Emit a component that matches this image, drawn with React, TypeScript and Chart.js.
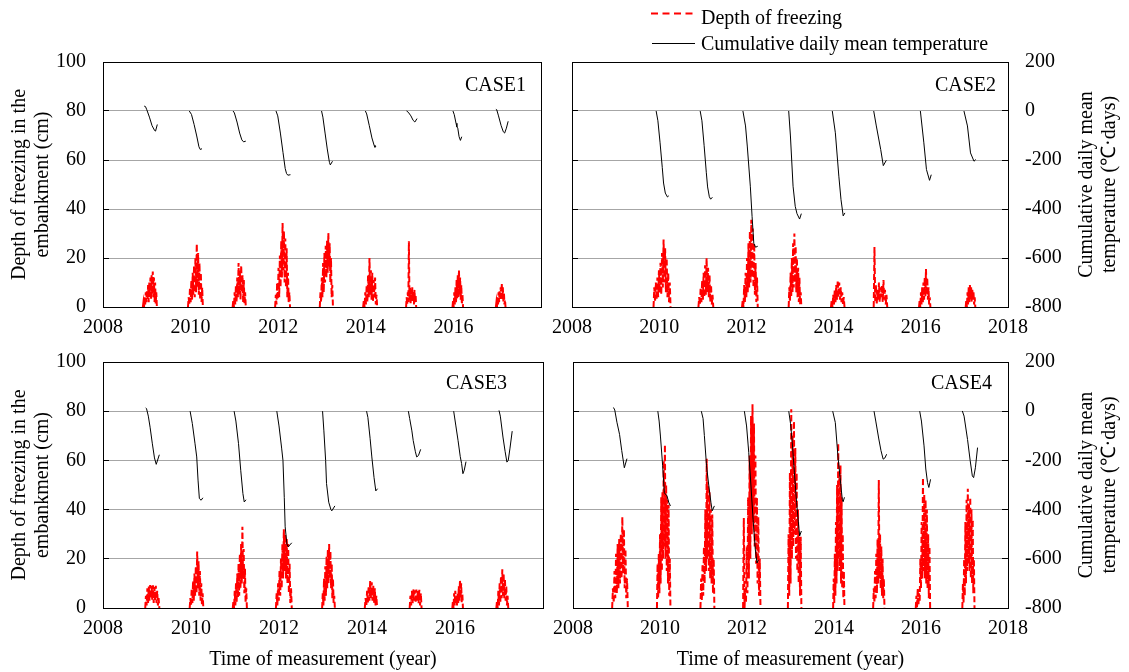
import React, { useEffect, useRef } from 'react';
import { Chart, registerables } from 'chart.js';

Chart.register(...registerables);

const FAMILY = "'Liberation Serif', 'Times New Roman', serif";
const W = 1129;
const H = 672;

// ---- tick labels / texts ----
const xTickYears = [2008, 2010, 2012, 2014, 2016, 2018];
const depthTicks = [0, 20, 40, 60, 80, 100];
const tempTicks = [-800, -600, -400, -200, 0, 200];
const legendLabels = ['Depth of freezing', 'Cumulative daily mean temperature'];
const depthAxisTitle = ['Depth of freezing in the', 'embankment (cm)'];
const tempAxisTitle = ['Cumulative daily mean', 'temperature (℃·days)'];
const timeAxisTitle = 'Time of measurement (year)';

// ---- data: depth of freezing (cm); each winter: [start year, end year, readings] ----
type Winter = [number, number, number[]];
type Curve = [number, number][];

const case1Depth: Winter[] = [
  [2008.91, 2009.23, [0, 2, 0, 4, 1, 6, 2, 7, 3, 9, 2, 10, 4, 12, 3, 13, 5, 14.5, 4, 12, 2, 10, 1, 6, 0]],
  [2009.94, 2010.28, [0, 4, 1, 8, 2, 11, 3, 14, 5, 17, 4, 20, 6, 25.8, 8, 22, 5, 18, 3, 14, 2, 8, 0]],
  [2010.96, 2011.26, [0, 3, 0, 6, 1, 9, 2, 12, 4, 18, 5, 15, 3, 17, 6, 13, 2, 11, 1, 6, 0]],
  [2011.93, 2012.27, [0, 5, 1, 10, 3, 16, 4, 21, 8, 27, 12, 34.3, 15, 31, 10, 28, 8, 24, 4, 14, 2, 6, 0]],
  [2012.95, 2013.25, [0, 6, 2, 12, 4, 18, 6, 22, 10, 25, 12, 27, 14, 30.2, 16, 26, 10, 20, 4, 9, 0]],
  [2013.94, 2014.26, [0, 3, 0, 6, 1, 9, 2, 13, 4, 20, 5, 15, 3, 14, 2, 11, 4, 12, 1, 5, 0]],
  [2014.92, 2015.15, [0, 4, 1, 6, 2, 26.8, 3, 8, 1, 7, 2, 8, 3, 6, 1, 7, 2, 5, 0]],
  [2015.98, 2016.22, [0, 3, 0, 6, 1, 8, 2, 11, 3, 13, 4, 15, 5, 12, 3, 9, 1, 5, 0]],
  [2016.97, 2017.19, [0, 2, 0, 4, 1, 6, 2, 7, 3, 8, 4, 9.7, 3, 8, 2, 6, 1, 3, 0]],
];
const case2Depth: Winter[] = [
  [2009.87, 2010.26, [0, 8, 2, 10, 3, 12, 4, 15, 6, 18, 5, 22, 8, 27.5, 10, 24, 6, 20, 4, 14, 2, 10, 0]],
  [2010.9, 2011.24, [0, 4, 1, 8, 2, 11, 3, 14, 4, 17, 5, 20, 6, 16, 4, 13, 2, 9, 1, 5, 0]],
  [2011.9, 2012.26, [0, 3, 0, 9, 2, 14, 4, 20, 6, 26, 8, 31, 10, 35.6, 12, 32, 8, 26, 5, 18, 2, 12, 0]],
  [2012.97, 2013.26, [0, 8, 2, 14, 4, 20, 6, 26, 8, 30, 10, 25, 6, 20, 4, 16, 2, 12, 1, 6, 0]],
  [2013.94, 2014.25, [0, 3, 0, 5, 1, 7, 2, 9, 3, 11, 4, 10, 3, 8, 2, 6, 1, 4, 0]],
  [2014.92, 2015.23, [0, 24.5, 2, 9, 1, 7, 3, 10, 2, 8, 4, 9, 2, 11, 3, 7, 1, 5, 0]],
  [2015.96, 2016.22, [0, 3, 0, 6, 1, 8, 2, 10, 3, 12, 4, 15.5, 5, 12, 3, 8, 1, 4, 0]],
  [2017.03, 2017.25, [0, 3, 0, 6, 1, 8, 2, 9, 3, 8, 2, 7, 3, 6, 1, 4, 0]],
];
const case3Depth: Winter[] = [
  [2008.96, 2009.28, [0, 5, 1, 8, 2, 9, 3, 9.3, 4, 9, 3, 9.2, 2, 8.5, 3, 9, 2, 7, 1, 4, 0]],
  [2009.97, 2010.28, [0, 4, 1, 8, 2, 11, 3, 14, 5, 17, 6, 23, 8, 19, 5, 15, 3, 10, 1, 6, 0]],
  [2010.95, 2011.27, [0, 3, 0, 7, 1, 10, 2, 14, 4, 18, 5, 22, 8, 26, 10, 33, 12, 24, 6, 16, 2, 8, 0]],
  [2011.93, 2012.29, [0, 6, 1, 10, 3, 15, 5, 20, 8, 26, 12, 32, 15, 30, 12, 28, 10, 26, 6, 18, 2, 8, 0]],
  [2012.98, 2013.27, [0, 6, 1, 12, 3, 17, 5, 21, 8, 24, 10, 26, 12, 23, 8, 18, 4, 12, 2, 5, 0]],
  [2013.95, 2014.23, [0, 4, 1, 7, 2, 9, 3, 11, 4, 10.5, 3, 9, 2, 8, 1, 5, 0]],
  [2014.97, 2015.24, [0, 5, 1, 7, 2, 7.6, 3, 7.2, 2, 7.5, 3, 7, 2, 7.4, 1, 6, 0]],
  [2015.94, 2016.18, [0, 3, 0, 6, 1, 7, 2, 5, 1, 6, 2, 9, 3, 11.4, 4, 10, 2, 6, 0]],
  [2016.94, 2017.21, [0, 3, 0, 7, 1, 10, 2, 13, 4, 15.7, 5, 14, 4, 12, 3, 9, 1, 5, 0]],
];
const case4Depth: Winter[] = [
  [2008.9, 2009.26, [0, 8, 2, 15, 4, 22, 6, 26, 8, 28, 10, 30, 12, 37, 14, 32, 8, 24, 4, 12, 0]],
  [2009.93, 2010.24, [0, 18, 4, 22, 6, 30, 10, 45, 15, 47, 20, 60, 25, 66.5, 20, 50, 15, 44, 10, 42, 5, 20, 0]],
  [2010.93, 2011.25, [0, 12, 3, 18, 5, 25, 10, 40, 15, 60.7, 20, 50, 15, 47, 12, 40, 10, 38, 6, 20, 0]],
  [2011.91, 2012.31, [0, 36.6, 0, 8, 2, 25, 6, 45, 12, 62, 20, 78, 30, 82.8, 35, 75, 25, 62, 18, 45, 10, 37, 5, 20, 0]],
  [2012.94, 2013.25, [0, 30, 5, 55, 10, 80.8, 20, 70, 25, 76, 30, 65, 20, 55, 15, 40, 10, 29, 5, 29, 0]],
  [2013.98, 2014.24, [0, 12, 2, 22, 5, 35, 10, 50, 15, 67, 20, 55, 15, 58, 10, 45, 8, 30, 4, 15, 0]],
  [2014.9, 2015.16, [0, 8, 2, 15, 4, 22, 6, 28, 10, 52, 12, 30, 8, 25, 5, 20, 4, 12, 0]],
  [2015.88, 2016.21, [0, 5, 0, 8, 1, 6, 3, 20, 8, 35, 12, 53, 15, 46, 12, 44, 10, 40, 8, 30, 4, 25, 0]],
  [2016.95, 2017.23, [0, 10, 2, 20, 5, 35, 10, 44, 15, 48.5, 18, 42, 15, 45, 12, 40, 10, 36, 6, 20, 0]],
];

// ---- data: cumulative daily mean temperature (℃·days); each winter: [year, value] ----
const case1Temp: Curve[] = [
  [[2008.94, 20], [2008.97, 18], [2009.0, 5], [2009.06, -25], [2009.12, -60], [2009.18, -80], [2009.2, -82], [2009.24, -55]],
  [[2009.97, 0], [2010.02, -14], [2010.08, -55], [2010.14, -102], [2010.19, -146], [2010.22, -157], [2010.26, -154]],
  [[2010.97, 0], [2011.0, -8], [2011.06, -45], [2011.12, -90], [2011.17, -118], [2011.21, -126], [2011.26, -123]],
  [[2011.95, 0], [2011.99, -20], [2012.05, -90], [2012.11, -170], [2012.16, -235], [2012.19, -255], [2012.22, -262], [2012.28, -260]],
  [[2012.99, 0], [2013.02, -25], [2013.07, -90], [2013.12, -155], [2013.17, -210], [2013.19, -220], [2013.24, -205]],
  [[2013.99, 0], [2014.02, -12], [2014.08, -60], [2014.14, -110], [2014.19, -140], [2014.21, -148], [2014.23, -144]],
  [[2014.93, 0], [2014.97, -5], [2015.03, -20], [2015.08, -38], [2015.12, -45], [2015.17, -31]],
  [[2015.99, 0], [2016.02, -15], [2016.06, -50], [2016.08, -65], [2016.1, -70], [2016.13, -105], [2016.16, -120], [2016.19, -105]],
  [[2016.97, 7], [2016.99, 5], [2017.03, -20], [2017.09, -60], [2017.14, -85], [2017.17, -90], [2017.21, -70], [2017.25, -42]],
];
const case2Temp: Curve[] = [
  [[2009.93, 0], [2009.97, -40], [2010.02, -130], [2010.07, -230], [2010.1, -294], [2010.14, -335], [2010.19, -351], [2010.22, -346]],
  [[2010.94, 0], [2010.98, -40], [2011.03, -140], [2011.08, -250], [2011.11, -310], [2011.15, -350], [2011.18, -360], [2011.22, -352]],
  [[2011.92, 0], [2011.98, -61], [2012.02, -143], [2012.09, -307], [2012.13, -430], [2012.17, -540], [2012.21, -556], [2012.26, -552]],
  [[2012.97, 0], [2013.01, -102], [2013.07, -307], [2013.12, -389], [2013.16, -419], [2013.22, -441], [2013.26, -419]],
  [[2013.97, 0], [2014.04, -89], [2014.12, -266], [2014.17, -362], [2014.22, -428], [2014.26, -416]],
  [[2014.92, 0], [2014.98, -61], [2015.08, -157], [2015.14, -223], [2015.21, -201]],
  [[2015.99, 0], [2016.07, -130], [2016.13, -239], [2016.2, -283], [2016.24, -260]],
  [[2016.99, 0], [2017.07, -61], [2017.14, -171], [2017.22, -205], [2017.26, -198]],
];
const case3Temp: Curve[] = [
  [[2008.97, 14], [2008.99, 10], [2009.03, -20], [2009.07, -65], [2009.12, -130], [2009.17, -190], [2009.21, -216], [2009.28, -177]],
  [[2009.98, 0], [2010.03, -50], [2010.09, -130], [2010.13, -186], [2010.16, -280], [2010.19, -355], [2010.23, -362], [2010.27, -352]],
  [[2010.98, 0], [2011.02, -40], [2011.08, -132], [2011.13, -240], [2011.18, -335], [2011.21, -369], [2011.25, -360]],
  [[2011.95, 0], [2012.0, -60], [2012.06, -150], [2012.09, -200], [2012.12, -350], [2012.14, -470], [2012.18, -540], [2012.21, -551], [2012.29, -535]],
  [[2012.99, 0], [2013.02, -80], [2013.06, -200], [2013.08, -294], [2013.13, -370], [2013.18, -400], [2013.2, -405], [2013.27, -385]],
  [[2013.99, 0], [2014.02, -25], [2014.07, -110], [2014.11, -186], [2014.16, -270], [2014.2, -324], [2014.24, -315]],
  [[2014.94, 0], [2014.97, -30], [2015.02, -80], [2015.05, -119], [2015.1, -165], [2015.13, -186], [2015.17, -180], [2015.22, -155]],
  [[2015.97, 0], [2016.02, -60], [2016.07, -120], [2016.12, -185], [2016.15, -213], [2016.18, -254], [2016.21, -240], [2016.25, -205]],
  [[2017.0, 3], [2017.03, -20], [2017.09, -105], [2017.14, -165], [2017.18, -207], [2017.21, -200], [2017.25, -150], [2017.3, -81]],
];
const case4Temp: Curve[] = [
  [[2008.93, 15], [2008.96, 5], [2009.01, -45], [2009.07, -94], [2009.12, -160], [2009.18, -230], [2009.24, -193]],
  [[2009.95, 0], [2009.98, -40], [2010.01, -101], [2010.06, -220], [2010.1, -332], [2010.16, -344], [2010.2, -370], [2010.24, -385]],
  [[2010.95, 0], [2010.99, -30], [2011.02, -99], [2011.07, -222], [2011.12, -300], [2011.17, -370], [2011.2, -405], [2011.25, -385]],
  [[2011.94, 0], [2011.99, -60], [2012.04, -167], [2012.09, -300], [2012.14, -440], [2012.19, -560], [2012.23, -617], [2012.26, -605]],
  [[2012.96, 0], [2013.0, -50], [2013.04, -126], [2013.09, -250], [2013.14, -371], [2013.18, -450], [2013.21, -507], [2013.25, -487]],
  [[2013.97, 0], [2014.03, -46], [2014.09, -182], [2014.14, -270], [2014.19, -358], [2014.21, -368], [2014.24, -350]],
  [[2014.92, 0], [2014.96, -40], [2015.03, -113], [2015.08, -160], [2015.13, -195], [2015.17, -190], [2015.21, -175]],
  [[2015.97, 0], [2016.01, -40], [2016.07, -141], [2016.11, -235], [2016.15, -290], [2016.18, -310], [2016.22, -277]],
  [[2016.95, 1], [2016.99, -20], [2017.07, -115], [2017.13, -200], [2017.18, -263], [2017.21, -270], [2017.25, -230], [2017.3, -148]],
];

// ---- layout of the four panels (plot-area pixel bounds) ----
type Panel = {
  name: string;
  depth: Winter[];
  temp: Curve[];
  l: number; r: number; t: number; b: number;
  left: boolean; right: boolean; xTitle: boolean; hideLastX: boolean;
  labelDx: number; labelDy: number;
};

const panels: Panel[] = [
  { name: 'CASE1', depth: case1Depth, temp: case1Temp, l: 103, r: 541, t: 62, b: 307, left: true, right: false, xTitle: false, hideLastX: true, labelDx: 15, labelDy: 24 },
  { name: 'CASE2', depth: case2Depth, temp: case2Temp, l: 572, r: 1008, t: 62, b: 307, left: false, right: true, xTitle: false, hideLastX: false, labelDx: 12, labelDy: 24 },
  { name: 'CASE3', depth: case3Depth, temp: case3Temp, l: 103, r: 543, t: 362, b: 608, left: true, right: false, xTitle: true, hideLastX: true, labelDx: 36, labelDy: 22 },
  { name: 'CASE4', depth: case4Depth, temp: case4Temp, l: 573, r: 1008, t: 362, b: 608, left: false, right: true, xTitle: true, hideLastX: false, labelDx: 16, labelDy: 22 },
];

const toDepthPoints = (winters: Winter[]) => {
  const pts: { x: number; y: number | null }[] = [];
  for (const [s, e, vals] of winters) {
    vals.forEach((v, i) => pts.push({ x: s + ((e - s) * i) / (vals.length - 1), y: v }));
    pts.push({ x: e, y: null });
  }
  return pts;
};

const toTempPoints = (curves: Curve[]) => {
  const pts: { x: number; y: number | null }[] = [];
  for (const c of curves) {
    c.forEach(([x, y]) => pts.push({ x, y }));
    pts.push({ x: c[c.length - 1][0], y: null });
  }
  return pts;
};

const font = { family: FAMILY, size: 20, lineHeight: 1.15 };

const decorPlugin = {
  id: 'decor',
  afterDraw(chart: any, _args: any, opts: any) {
    const { ctx, chartArea: a } = chart;
    const ys = chart.scales.y;
    ctx.save();
    ctx.strokeStyle = '#000';
    ctx.lineWidth = 1;
    ctx.beginPath();
    for (const v of depthTicks) {
      if (v === 0 || v === 100) continue;
      const y = Math.round(ys.getPixelForValue(v) - 0.5) + 0.5;
      ctx.moveTo(a.left, y);
      ctx.lineTo(a.left + 6, y);
      if (opts.rightTicks) {
        ctx.moveTo(a.right - 6, y);
        ctx.lineTo(a.right, y);
      }
    }
    ctx.stroke();
    ctx.strokeRect(Math.round(a.left) + 0.5, Math.round(a.top) + 0.5, Math.round(a.right - a.left), Math.round(a.bottom - a.top));
    ctx.fillStyle = '#000';
    ctx.font = `20px ${FAMILY}`;
    ctx.textAlign = 'right';
    ctx.textBaseline = 'middle';
    ctx.fillText(opts.caseName, a.right - opts.labelDx, a.top + opts.labelDy);
    if (opts.rightTitle) {
      const cy = (a.top + a.bottom) / 2;
      tempAxisTitle.forEach((line, i) => {
        ctx.save();
        ctx.translate(1087 + i * 23, cy);
        ctx.rotate(-Math.PI / 2);
        ctx.textAlign = 'center';
        ctx.fillText(line, 0, 0);
        ctx.restore();
      });
    }
    ctx.restore();
  },
};

function makeConfig(p: Panel): any {
  return {
    type: 'line',
    data: {
      datasets: [
        {
          label: legendLabels[1],
          data: toTempPoints(p.temp),
          yAxisID: 'y1',
          borderColor: '#000000',
          borderWidth: 1,
          pointRadius: 0,
          tension: 0,
          fill: false,
        },
        {
          label: legendLabels[0],
          data: toDepthPoints(p.depth),
          yAxisID: 'y',
          borderColor: '#ff0000',
          borderWidth: 2,
          borderDash: [6, 3],
          pointRadius: 0,
          tension: 0,
          fill: false,
        },
      ],
    },
    options: {
      responsive: false,
      animation: false,
      events: [],
      layout: { padding: { top: p.t, left: 0, right: 0, bottom: 0 } },
      plugins: {
        legend: { display: false },
        tooltip: { enabled: false },
        decor: { caseName: p.name, labelDx: p.labelDx, labelDy: p.labelDy, rightTicks: p.right, rightTitle: p.right },
      },
      scales: {
        x: {
          type: 'linear',
          min: 2008,
          max: 2018,
          afterBuildTicks: (axis: any) => {
            axis.ticks = xTickYears.map((v) => ({ value: v }));
          },
          ticks: {
            callback: (v: any) => (p.hideLastX && v === 2018 ? '' : String(v)),
            font,
            color: '#000',
            padding: 9,
            maxRotation: 0,
            autoSkip: false,
          },
          grid: { display: false, drawTicks: false },
          border: { display: false },
          title: { display: p.xTitle, text: timeAxisTitle, font, color: '#000', padding: { top: 0, bottom: 0.5 } },
          afterFit: (axis: any) => {
            axis.height = H - p.b;
          },
        },
        y: {
          position: 'left',
          min: 0,
          max: 100,
          afterBuildTicks: (axis: any) => {
            axis.ticks = depthTicks.map((v) => ({ value: v }));
          },
          ticks: { display: p.left, callback: (v: any) => String(v), font, color: '#000', padding: 17 },
          grid: { color: '#a6a6a6', lineWidth: 1, drawTicks: false },
          border: { display: false },
          title: { display: p.left, text: depthAxisTitle, font, color: '#000', padding: { top: 8, bottom: 0 } },
          afterFit: (axis: any) => {
            axis.width = p.l;
          },
        },
        y1: {
          position: 'right',
          min: -800,
          max: 200,
          afterBuildTicks: (axis: any) => {
            axis.ticks = tempTicks.map((v) => ({ value: v }));
          },
          ticks: { display: p.right, callback: (v: any) => String(v), font, color: '#000', padding: 17 },
          grid: { drawOnChartArea: false, drawTicks: false },
          border: { display: false },
          afterFit: (axis: any) => {
            axis.width = W - p.r;
          },
        },
      },
    },
    plugins: [decorPlugin],
  };
}

function PanelChart({ panel }: { panel: Panel }) {
  const ref = useRef<HTMLCanvasElement | null>(null);
  useEffect(() => {
    if (!ref.current) return;
    const chart = new Chart(ref.current, makeConfig(panel));
    return () => chart.destroy();
  }, [panel]);
  return <canvas ref={ref} width={W} height={H} style={{ position: 'absolute', left: 0, top: 0, width: W, height: H }} />;
}

export default function App() {
  const textStyle: React.CSSProperties = {
    position: 'absolute',
    fontFamily: FAMILY,
    fontSize: 20,
    lineHeight: '23px',
    color: '#000',
    whiteSpace: 'nowrap',
  };
  return (
    <div style={{ position: 'fixed', left: 0, top: 0, width: W, height: H, background: '#fff', overflow: 'hidden' }}>
      {panels.map((p) => (
        <PanelChart key={p.name} panel={p} />
      ))}
      <svg style={{ position: 'absolute', left: 648, top: 4 }} width={50} height={48}>
        <line x1={3} x2={46} y1={9.5} y2={9.5} stroke="#ff0000" strokeWidth={2} strokeDasharray="7 4.5" />
        <line x1={4} x2={47} y1={39.5} y2={39.5} stroke="#000" strokeWidth={1} />
      </svg>
      <div style={{ ...textStyle, left: 701, top: 6 }}>{legendLabels[0]}</div>
      <div style={{ ...textStyle, left: 701, top: 32 }}>{legendLabels[1]}</div>
    </div>
  );
}
